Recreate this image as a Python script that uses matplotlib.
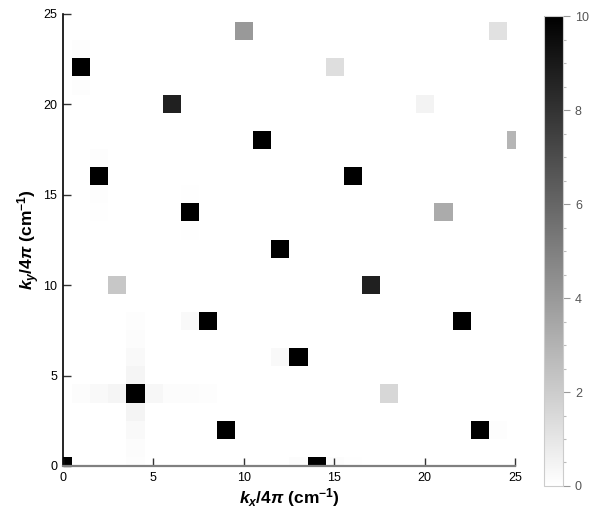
import numpy as np
import matplotlib
matplotlib.use("Agg")
import matplotlib.pyplot as plt
from matplotlib.ticker import MultipleLocator

plt.rcParams['font.family'] = ['Liberation Sans', 'DejaVu Sans']
plt.rcParams['mathtext.fontset'] = 'custom'
plt.rcParams['mathtext.rm'] = 'Liberation Sans:bold'
plt.rcParams['mathtext.it'] = 'Liberation Sans:bold:italic'
plt.rcParams['mathtext.bf'] = 'Liberation Sans:bold'

n = 26  # grid 0..25 in kx/4pi and ky/4pi

# main peaks: kx, ky, intensity
peak_kx = [0, 1, 2, 3, 4, 6, 7, 8, 9, 10, 11, 12, 13, 14, 15, 16, 17, 18, 20, 21, 22, 23, 24, 25]
peak_ky = [0, 22, 16, 10, 4, 20, 14, 8, 2, 24, 18, 12, 6, 0, 22, 16, 10, 4, 20, 14, 8, 2, 24, 18]
peak_val = [10, 10, 10, 2.2, 10, 8.7, 10, 10, 10, 4.0, 10, 10, 10, 10, 1.3, 10, 8.7, 1.6, 0.5, 3.3, 10, 10, 1.2, 2.9]

# weak side lobes
weak_kx = [1, 2, 3, 5, 6, 7, 8, 4, 4, 4, 4, 4, 4, 4, 4,
           1, 1, 2, 2, 2, 7, 7, 7, 12, 13, 15, 16, 24]
weak_ky = [4, 4, 4, 4, 4, 4, 4, 5, 6, 7, 8, 3, 2, 1, 0,
           23, 21, 17, 15, 14, 15, 13, 8, 6, 0, 0, 0, 2]
weak_val = [0.15, 0.25, 0.4, 0.35, 0.15, 0.15, 0.08, 0.4, 0.25, 0.15, 0.08, 0.45, 0.25, 0.15, 0.08,
            0.08, 0.08, 0.08, 0.08, 0.04, 0.06, 0.06, 0.25, 0.25, 0.12, 0.12, 0.06, 0.08]

Z = np.zeros((n, n))
for x, y, v in zip(peak_kx + weak_kx, peak_ky + weak_ky, peak_val + weak_val):
    Z[y, x] = v

fig = plt.figure(figsize=(5.94, 5.18), dpi=100)
ax = fig.add_axes([0.106, 0.1004, 0.761, 0.8726])
cax = fig.add_axes([0.916, 0.0618, 0.032, 0.907])

im = ax.imshow(Z, cmap='gray_r', vmin=0, vmax=10, origin='lower',
               extent=[-0.5, n - 0.5, -0.5, n - 0.5], interpolation='nearest', aspect='auto')
ax.set_xlim(0, 25)
ax.set_ylim(0, 25)
ax.set_xticks([0, 5, 10, 15, 20, 25])
ax.set_yticks([0, 5, 10, 15, 20, 25])
ax.tick_params(direction='in', length=6, width=1, labelsize=9, color='#333333', pad=4)
ax.spines['top'].set_visible(False)
ax.spines['right'].set_visible(False)
ax.spines['left'].set_color('black')
ax.spines['left'].set_linewidth(1.2)
ax.spines['bottom'].set_color('#808080')
ax.spines['bottom'].set_linewidth(1.6)
ax.set_xlabel(r'$k_x/4\pi$ (cm$^{-1}$)', fontsize=12.5, fontweight='bold', labelpad=2)
ax.set_ylabel(r'$k_y/4\pi$ (cm$^{-1}$)', fontsize=12.5, fontweight='bold', labelpad=1)

cb = fig.colorbar(im, cax=cax)
cb.set_ticks([0, 2, 4, 6, 8, 10])
cb.ax.yaxis.set_minor_locator(MultipleLocator(0.5))
cb.ax.tick_params(which='major', length=5, width=0.8, color='#999999', labelcolor='#555555', labelsize=9)
cb.ax.tick_params(which='minor', length=2, width=0.8, color='#bbbbbb')
cb.outline.set_edgecolor('#cccccc')
cb.outline.set_linewidth(0.8)

plt.savefig('out.png', dpi=100)
